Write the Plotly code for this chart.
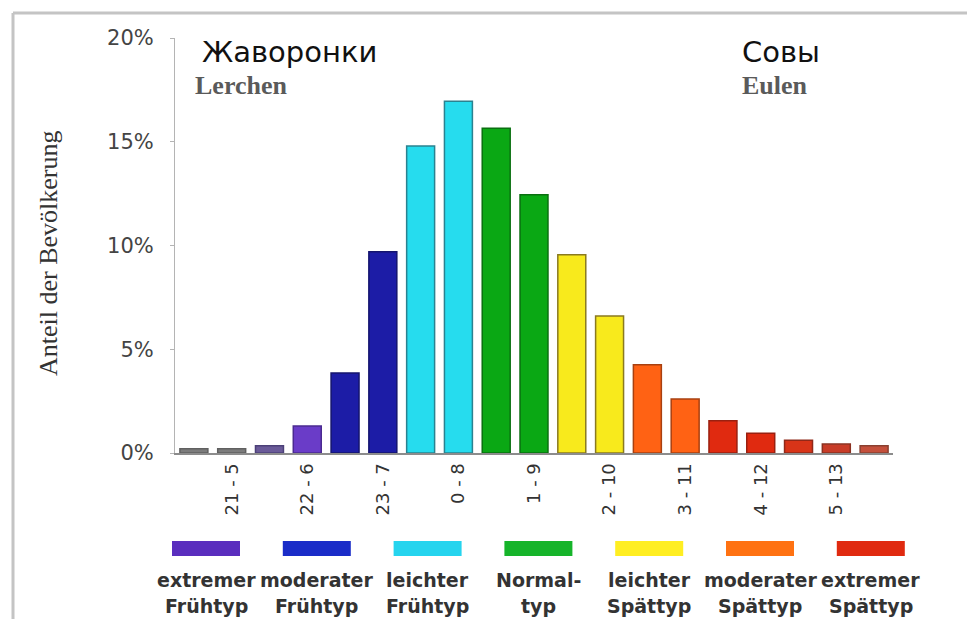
import plotly.graph_objects as go

# ---------------- data ----------------
bin_index = list(range(1, 20))  # half-hour mid-sleep bins
share_pct = [0.2, 0.2, 0.35, 1.3, 3.85, 9.7, 14.8, 16.95, 15.65, 12.45,
             9.55, 6.6, 4.25, 2.6, 1.55, 0.95, 0.62, 0.43, 0.35]
bar_fill = ["#7c7c7c", "#7c7c7c", "#6a5a98", "#6a3cc8", "#1c1ca6", "#1c1ca6",
            "#26dcee", "#26dcee", "#0aa814", "#0aa814", "#f8ea1c", "#f8ea1c",
            "#ff6214", "#ff6214", "#e02a10", "#e02a10", "#d83418", "#c83c28",
            "#c4503c"]
bar_edge = ["#606060", "#606060", "#4c4078", "#4a2a90", "#14146e", "#14146e",
            "#2a8290", "#2a8290", "#0a7010", "#0a7010", "#8a7a20", "#8a7a20",
            "#a84010", "#a84010", "#9a2010", "#9a2010", "#902818", "#8a3020",
            "#8a4030"]
tick_bins = [2, 4, 6, 8, 10, 12, 14, 16, 18]
tick_labels = ["21 - 5", "22 - 6", "23 - 7", "0 - 8", "1 - 9", "2 - 10",
               "3 - 11", "4 - 12", "5 - 13"]
y_ticks = [0, 5, 10, 15, 20]
y_tick_labels = ["0%", "5%", "10%", "15%", "20%"]

legend_labels = ["extremer<br>Frühtyp", "moderater<br>Frühtyp", "leichter<br>Frühtyp",
                 "Normal-<br>typ", "leichter<br>Spättyp", "moderater<br>Spättyp",
                 "extremer<br>Spättyp"]
legend_colors = ["#5a2ebe", "#1a2cc8", "#26d4ee", "#16b42a", "#ffee22",
                 "#ff7212", "#e02a10"]

# ---------------- layout geometry ----------------
# the page body has an 8px margin, so the figure starts at screen (8, 8)
OFF = 8
W, H = 975 - OFF, 619 - OFF
L, R, T, B = 175 - OFF, 82, 38 - OFF, 166
PW, PH = W - L - R, H - T - B


def px(xs):
    """screen x pixel -> paper x"""
    return (xs - OFF - L) / PW


def py(ys):
    """screen y pixel -> paper y"""
    return (H - B - (ys - OFF)) / PH


fig = go.Figure()
fig.add_trace(go.Bar(
    x=bin_index, y=share_pct, width=0.74,
    marker=dict(color=bar_fill, line=dict(color=bar_edge, width=1.5)),
    hoverinfo="skip", showlegend=False,
))

shapes = []
# outer frame (top and left)
shapes.append(dict(type="line", xref="paper", yref="paper",
                   x0=px(13), x1=px(975), y0=py(13), y1=py(13),
                   line=dict(color="#c4c4c4", width=3)))
shapes.append(dict(type="line", xref="paper", yref="paper",
                   x0=px(13), x1=px(13), y0=py(13), y1=py(619),
                   line=dict(color="#c4c4c4", width=3)))

annotations = []
legend_font = dict(family="DejaVu Sans", size=19, color="#333333")
# legend swatches and labels
for i, (lab, col) in enumerate(zip(legend_labels, legend_colors)):
    cx = 206 + i * 110.8
    shapes.append(dict(type="rect", xref="paper", yref="paper",
                       x0=px(cx - 34), x1=px(cx + 34), y0=py(556), y1=py(541),
                       fillcolor=col, line=dict(width=0)))
    for line_text, ly in zip(lab.split("<br>"), (580, 606)):
        annotations.append(dict(xref="paper", yref="paper", x=px(cx), y=py(ly),
                                text="<b>" + line_text + "</b>", showarrow=False,
                                xanchor="center", yanchor="middle",
                                font=legend_font))

title_font = dict(family="DejaVu Sans", size=29, color="#111111")
sub_font = dict(family="Liberation Serif", size=26, color="#5a5a5a")
annotations += [
    dict(xref="paper", yref="paper", x=px(200), y=py(52), text="Жаворонки",
         showarrow=False, xanchor="left", yanchor="middle", font=title_font),
    dict(xref="paper", yref="paper", x=px(193), y=py(85), text="<b>Lerchen</b>",
         showarrow=False, xanchor="left", yanchor="middle", font=sub_font),
    dict(xref="paper", yref="paper", x=px(740), y=py(52), text="Совы",
         showarrow=False, xanchor="left", yanchor="middle", font=title_font),
    dict(xref="paper", yref="paper", x=px(740), y=py(85), text="<b>Eulen</b>",
         showarrow=False, xanchor="left", yanchor="middle", font=sub_font),
    dict(xref="paper", yref="paper", x=px(48), y=py(253),
         text="Anteil der Bevölkerung", textangle=-90, showarrow=False,
         xanchor="center", yanchor="middle",
         font=dict(family="Liberation Serif", size=26, color="#333333")),
]

fig.update_layout(
    width=W, height=H,
    margin=dict(l=L, r=R, t=T, b=B, pad=0),
    paper_bgcolor="white", plot_bgcolor="white",
    shapes=shapes, annotations=annotations,
    xaxis=dict(range=[0.5, 19.5], tickmode="array", tickvals=tick_bins,
               ticktext=tick_labels, tickangle=-90, ticks="",
               showgrid=False, zeroline=False, showline=True,
               linecolor="#8c8c8c", linewidth=2, ticklabelstandoff=1,
               tickfont=dict(family="DejaVu Sans", size=18, color="#333333")),
    yaxis=dict(range=[0, 20], tickmode="array", tickvals=y_ticks,
               ticktext=y_tick_labels, ticks="outside", ticklen=4,
               tickcolor="#b4b4b4",
               showgrid=False, zeroline=False, showline=True,
               linecolor="#b4b4b4", linewidth=1, ticklabelstandoff=12,
               tickfont=dict(family="DejaVu Sans", size=21, color="#444444")),
)

fig.write_html("out.html")
